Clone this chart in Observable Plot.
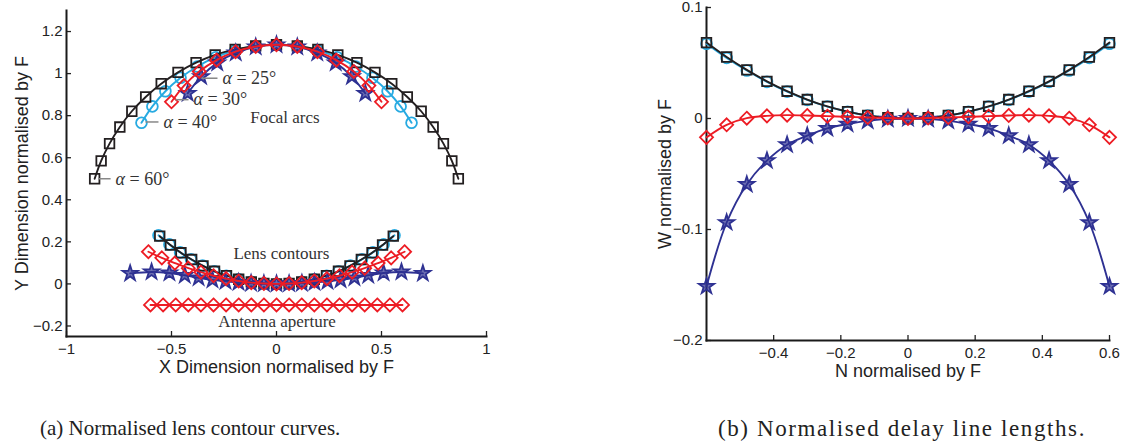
<!DOCTYPE html>
<html><head><meta charset="utf-8">
<script src="https://cdn.jsdelivr.net/npm/d3@7"></script>
<script src="https://cdn.jsdelivr.net/npm/@observablehq/plot@0.6"></script>
<style>
body{margin:0;background:#fff;width:1146px;height:446px;position:relative;overflow:hidden;font-family:"Liberation Sans",Arial,sans-serif}
#pa{position:absolute;left:0;top:0}
#pb{position:absolute;left:600px;top:0}
.cap{position:absolute;font-family:"Liberation Serif",serif;color:#222;white-space:nowrap;line-height:1}
</style></head><body>
<div id="pa"></div><div id="pb"></div>
<div class="cap" id="capA" style="left:40px;top:418px;font-size:21px">(a) Normalised lens contour curves.</div>
<div class="cap" id="capB" style="left:718px;top:417px;font-size:23px;letter-spacing:1.6px">(b) Normalised delay line lengths.</div>
<script>
// ---------- Panel (a): focal arcs ----------
const arc60X = [-0.866,-0.835,-0.795,-0.746,-0.689,-0.623,-0.549,-0.469,-0.383,-0.292,-0.197,-0.099,0,0.099,0.197,0.292,0.383,0.469,0.549,0.623,0.689,0.746,0.795,0.835,0.866];
const arc60Y = [0.5,0.585,0.667,0.746,0.821,0.889,0.952,1.006,1.052,1.089,1.115,1.132,1.137,1.132,1.115,1.089,1.052,1.006,0.952,0.889,0.821,0.746,0.667,0.585,0.5];
const arc40X = [-0.643,-0.591,-0.529,-0.457,-0.377,-0.289,-0.196,-0.099,0,0.099,0.196,0.289,0.377,0.457,0.529,0.591,0.643];
const arc40Y = [0.766,0.844,0.916,0.980,1.034,1.078,1.111,1.130,1.137,1.130,1.111,1.078,1.034,0.980,0.916,0.844,0.766];
const arc30X = [-0.5,-0.44,-0.368,-0.285,-0.195,-0.099,0,0.099,0.195,0.285,0.368,0.44,0.5];
const arc30Y = [0.866,0.943,1.010,1.064,1.104,1.129,1.137,1.129,1.104,1.064,1.010,0.943,0.866];
const arc25X = [-0.423,-0.359,-0.282,-0.194,-0.099,0,0.099,0.194,0.282,0.359,0.423];
const arc25Y = [0.906,0.986,1.051,1.098,1.127,1.137,1.127,1.098,1.051,0.986,0.906];

// ---------- Panel (a): lens contours ----------
const lens60X = [-0.556,-0.505,-0.455,-0.404,-0.350,-0.295,-0.238,-0.180,-0.120,-0.060,0,0.060,0.120,0.180,0.238,0.295,0.350,0.404,0.455,0.505,0.556];
const lens60Y = [0.227,0.185,0.148,0.116,0.086,0.060,0.039,0.022,0.010,0.002,0,0.002,0.010,0.022,0.039,0.060,0.086,0.116,0.148,0.185,0.227];
const lens40X = [-0.562,-0.510,-0.459,-0.407,-0.352,-0.296,-0.239,-0.180,-0.120,-0.060,0,0.060,0.120,0.180,0.239,0.296,0.352,0.407,0.459,0.510,0.562];
const lens40Y = [0.231,0.188,0.150,0.117,0.087,0.060,0.039,0.022,0.010,0.002,0,0.002,0.010,0.022,0.039,0.060,0.087,0.117,0.150,0.188,0.231];
const lens30X = [-0.610,-0.546,-0.484,-0.420,-0.360,-0.300,-0.240,-0.180,-0.120,-0.060,0,0.060,0.120,0.180,0.240,0.300,0.360,0.420,0.484,0.546,0.610];
const lens30Y = [0.153,0.124,0.099,0.075,0.056,0.039,0.025,0.014,0.006,0.002,0,0.002,0.006,0.014,0.025,0.039,0.056,0.075,0.099,0.124,0.153];
const lens25X = [-0.697,-0.595,-0.510,-0.437,-0.371,-0.305,-0.243,-0.181,-0.121,-0.060,0,0.060,0.121,0.181,0.243,0.305,0.371,0.437,0.510,0.595,0.697];
const lens25Y = [0.050,0.057,0.052,0.041,0.029,0.019,0.012,0.007,0.003,0.001,0,0.001,0.003,0.007,0.012,0.019,0.029,0.041,0.052,0.057,0.050];

// ---------- Panel (a): antenna aperture ----------
const apertureX = [-0.6,-0.54,-0.48,-0.42,-0.36,-0.3,-0.24,-0.18,-0.12,-0.06,0,0.06,0.12,0.18,0.24,0.3,0.36,0.42,0.48,0.54,0.6];
const apertureY = [-0.1,-0.1,-0.1,-0.1,-0.1,-0.1,-0.1,-0.1,-0.1,-0.1,-0.1,-0.1,-0.1,-0.1,-0.1,-0.1,-0.1,-0.1,-0.1,-0.1,-0.1];

// annotations panel (a)
const annLabels = ["α = 25°","α = 30°","α = 40°","α = 60°"];
const annX1 = [-0.357,-0.481,-0.624,-0.848];
const annX2 = [-0.281,-0.419,-0.562,-0.790];
const annY  = [0.978,0.876,0.770,0.500];
const noteLabels = ["Focal arcs","Lens contours","Antenna aperture"];
const noteX = [0.040,0.023,0.003];
const noteY = [0.793,0.143,-0.178];

const xTicksA = [-1,-0.5,0,0.5,1];
const yTicksA = [-0.2,0,0.2,0.4,0.6,0.8,1,1.2];

// ---------- Panel (b): delay line lengths ----------
const N = [-0.6,-0.54,-0.48,-0.42,-0.36,-0.3,-0.24,-0.18,-0.12,-0.06,0,0.06,0.12,0.18,0.24,0.3,0.36,0.42,0.48,0.54,0.6];
const w60 = [0.0684,0.0554,0.0438,0.0335,0.0246,0.0171,0.0109,0.0062,0.0027,0.0007,0,0.0007,0.0027,0.0062,0.0109,0.0171,0.0246,0.0335,0.0438,0.0554,0.0684];
const w40 = [0.0674,0.0546,0.0432,0.0330,0.0242,0.0168,0.0107,0.0061,0.0027,0.0007,0,0.0007,0.0027,0.0061,0.0107,0.0168,0.0242,0.0330,0.0432,0.0546,0.0674];
const w30 = [-0.0170,-0.0057,0.0003,0.0024,0.0030,0.0027,0.0021,0.0015,0.0009,0.0004,0,0.0004,0.0009,0.0015,0.0021,0.0027,0.0030,0.0024,0.0003,-0.0057,-0.0170];
const w25 = [-0.1513,-0.0937,-0.0594,-0.0379,-0.0236,-0.0155,-0.0089,-0.0050,-0.0021,-0.0006,0,-0.0006,-0.0021,-0.0050,-0.0089,-0.0155,-0.0236,-0.0379,-0.0594,-0.0937,-0.1513];
const xTicksB = [-0.4,-0.2,0,0.2,0.4,0.6];
const yTicksB = [-0.2,-0.1,0,0.1];

// ---------- styling ----------
const C60 = "#231f20", C40 = "#27aae1", C30 = "#ed1c24", C25 = "#2e3192";
const diamond = {draw(ctx, size){const r = Math.sqrt(size/2); ctx.moveTo(0,-r); ctx.lineTo(r,0); ctx.lineTo(0,r); ctx.lineTo(-r,0); ctx.closePath();}};
const SYM = {
  s60: {color: C60, symbol: "square", r: 5.4},
  s40: {color: C40, symbol: "circle", r: 5.4},
  s30: {color: C30, symbol: diamond, r: 5.2},
  s25: {color: C25, symbol: "star", r: 4.8}
};
const fmt = d => (d < 0 ? "\u2212" : "") + String(+Math.abs(d).toFixed(2));

function series(xs, ys, key, curve = "catmull-rom") {
  const st = SYM[key];
  const data = xs.map((x, i) => ({x, y: ys[i]}));
  return [
    Plot.line(data, {x: "x", y: "y", stroke: st.color, strokeWidth: 1.9, curve}),
    Plot.dot(data, {x: "x", y: "y", stroke: st.color, symbol: st.symbol, r: st.r, strokeWidth: 1.8,
      fill: key === "s25" ? st.color : "none", fillOpacity: key === "s25" ? 0.7 : 1})
  ];
}

function axes(xt, yt) {
  return [
    Plot.axisX({ticks: xt, tickSize: -5, tickPadding: 12, tickFormat: fmt, label: null, strokeWidth: 1.3}),
    Plot.axisY({ticks: yt, tickSize: -5, tickPadding: 9, tickFormat: fmt, label: null, strokeWidth: 1.3}),
    Plot.frame({anchor: "left", stroke: "#1a1a1a", strokeWidth: 2}),
    Plot.frame({anchor: "bottom", stroke: "#1a1a1a", strokeWidth: 2})
  ];
}

const baseStyle = {fontFamily: "Liberation Sans, Arial, sans-serif", fontSize: "15px", color: "#222", background: "white", overflow: "visible"};

const plotA = Plot.plot({
  width: 500, height: 385,
  marginLeft: 66, marginRight: 14, marginTop: 10, marginBottom: 49,
  x: {domain: [-1, 1]},
  y: {domain: [-0.25, 1.3]},
  style: baseStyle,
  marks: [
    ...axes(xTicksA, yTicksA),
    ...series(arc40X, arc40Y, "s40"),
    ...series(arc60X, arc60Y, "s60"),
    ...series(arc25X, arc25Y, "s25"),
    ...series(arc30X, arc30Y, "s30"),
    ...series(lens40X, lens40Y, "s40"),
    ...series(lens60X, lens60Y, "s60"),
    ...series(lens25X, lens25Y, "s25"),
    ...series(lens30X, lens30Y, "s30"),
    ...series(apertureX, apertureY, "s30", "linear"),
    Plot.link(annLabels, {x1: (d, i) => annX1[i], x2: (d, i) => annX2[i], y1: (d, i) => annY[i], y2: (d, i) => annY[i], stroke: "#888", strokeWidth: 1.5}),
    Plot.text(annLabels, {x: (d, i) => annX2[i], y: (d, i) => annY[i], text: d => d, textAnchor: "start", dx: 5, fontSize: 18, fontFamily: "Liberation Serif, serif", fill: "#333"}),
    Plot.text(noteLabels, {x: (d, i) => noteX[i], y: (d, i) => noteY[i], text: d => d, fontSize: 17, fontFamily: "Liberation Serif, serif", fill: "#333"}),
    Plot.text(["X Dimension normalised by F"], {frameAnchor: "bottom", lineAnchor: "middle", dy: 31, text: d => d, fontSize: 18, fill: "#222"}),
    Plot.text(["Y Dimension normalised by F"], {frameAnchor: "left", textAnchor: "middle", lineAnchor: "middle", dx: -44, rotate: -90, text: d => d, fontSize: 18, fill: "#222"})
  ]
});
// italic alpha, as in the LaTeX labels
plotA.querySelectorAll("text").forEach(t => {
  if (t.textContent.startsWith("α")) {
    const rest = t.textContent.slice(1);
    t.textContent = "";
    const a = document.createElementNS("http://www.w3.org/2000/svg", "tspan");
    a.setAttribute("font-style", "italic");
    a.textContent = "α";
    t.appendChild(a);
    t.appendChild(document.createTextNode(rest));
  }
});
document.getElementById("pa").appendChild(plotA);

const plotB = Plot.plot({
  width: 546, height: 385,
  marginLeft: 106, marginRight: 37, marginTop: 7, marginBottom: 45,
  x: {domain: [-0.6, 0.6]},
  y: {domain: [-0.2, 0.1]},
  style: baseStyle,
  marks: [
    ...axes(xTicksB, yTicksB),
    ...series(N, w40, "s40"),
    ...series(N, w60, "s60"),
    ...series(N, w25, "s25"),
    ...series(N, w30, "s30"),
    Plot.text(["N normalised by F"], {frameAnchor: "bottom", lineAnchor: "middle", dy: 31, text: d => d, fontSize: 18, fill: "#222"}),
    Plot.text(["W normalised by F"], {frameAnchor: "left", textAnchor: "middle", lineAnchor: "middle", dx: -41, rotate: -90, text: d => d, fontSize: 18, fill: "#222"})
  ]
});
document.getElementById("pb").appendChild(plotB);
</script>
</body></html>
